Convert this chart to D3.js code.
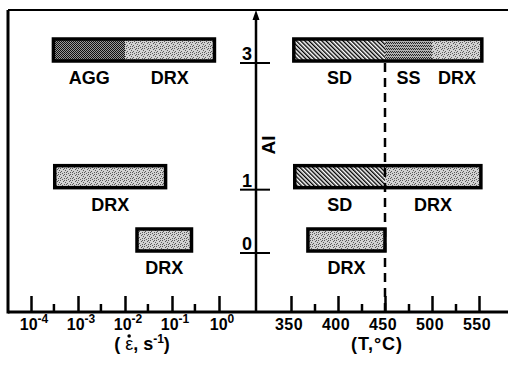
<!DOCTYPE html>
<html lang="en">
<head>
<meta charset="UTF-8">
<title>AI vs strain rate and temperature</title>
<script src="https://d3js.org/d3.v7.min.js"></script>
<style>
  body { margin: 0; background: #fff; }
  text { font-family: "Liberation Sans", Arial, sans-serif; font-weight: bold; fill: #000; }
</style>
</head>
<body>
<svg id="chart" width="508" height="371"></svg>
<script>
// AI levels and tick values
const aiTicks = [0, 1, 3];
const rateTicks = [1e-4, 1e-3, 1e-2, 1e-1, 1];
const rateMinor = [3e-4, 3e-3, 3e-2, 3e-1];
const tempTicks = [350, 400, 450, 500, 550];
const tempMinor = [375, 425, 475, 525];

// strain-rate panel segments
const rateAI = [3, 3, 1, 0];
const rateFrom = [3e-4, 1e-2, 3.2e-4, 0.018];
const rateTo = [1e-2, 0.8, 0.073, 0.26];
const rateMech = ["AGG", "DRX", "DRX", "DRX"];

// temperature panel segments
const tempAI = [3, 3, 3, 1, 1, 0];
const tempFrom = [353, 450, 500, 354, 450, 368];
const tempTo = [450, 500, 553, 450, 552, 450];
const tempMech = ["SD", "SS", "DRX", "SD", "DRX", "DRX"];
const tempBoundary = 450;

const svg = d3.select("#chart");
const yBottom = 312, yTop = 10, xLeft = 8, xRight = 508, midX = 256;

const xRate = d3.scaleLog().domain([1e-4, 1]).range([31, 219]);
const xTemp = d3.scaleLinear().domain([350, 550]).range([291, 479]);
const y = d3.scaleLinear().domain([0, 3]).range([253, 63]);

// fill patterns
const defs = svg.append("defs");
function pixPattern(id, w, h, bg, fg, pts) {
    const p = defs.append("pattern").attr("id", id)
        .attr("patternUnits", "userSpaceOnUse").attr("width", w).attr("height", h);
    p.append("rect").attr("width", w).attr("height", h).attr("fill", bg);
    pts.forEach(([px, py]) => p.append("rect").attr("x", px).attr("y", py)
        .attr("width", 1).attr("height", 1).attr("fill", fg));
}
pixPattern("DRX", 6, 6, "#d2d2d2", "#5a5a5a",
    [[0, 0], [3, 1], [1, 3], [4, 4], [5, 2], [2, 5], [4, 0], [0, 4]]);
pixPattern("AGG", 4, 4, "#9a9a9a", "#111",
    [[0, 0], [2, 0], [1, 1], [3, 1], [0, 2], [2, 2], [1, 3], [3, 3]]);
pixPattern("SS", 4, 3, "#b0b0b0", "#222",
    [[0, 0], [2, 0], [1, 1], [3, 1]]);
const sd = defs.append("pattern").attr("id", "SD")
    .attr("patternUnits", "userSpaceOnUse").attr("width", 3).attr("height", 3)
    .attr("patternTransform", "rotate(-45)");
sd.append("rect").attr("width", 3).attr("height", 3).attr("fill", "#fff");
sd.append("rect").attr("width", 1.4).attr("height", 3).attr("fill", "#000");

const rateSegs = rateAI.map((ai, i) => ({ai, from: rateFrom[i], to: rateTo[i], mech: rateMech[i], x: xRate}));
const tempSegs = tempAI.map((ai, i) => ({ai, from: tempFrom[i], to: tempTo[i], mech: tempMech[i], x: xTemp}));
const segs = rateSegs.concat(tempSegs);

const barH = 22;
svg.append("g").selectAll("rect")
    .data(segs).enter().append("rect")
    .attr("x", d => d.x(d.from))
    .attr("y", d => y(d.ai) - barH - 2)
    .attr("width", d => d.x(d.to) - d.x(d.from))
    .attr("height", barH)
    .attr("fill", d => `url(#${d.mech})`);

// outlines of whole bars
const outlines = [];
[rateSegs, tempSegs].forEach(list => {
    d3.group(list, d => d.ai).forEach((v, ai) => {
        outlines.push({ai, x: v[0].x, from: d3.min(v, d => d.from), to: d3.max(v, d => d.to)});
    });
});
svg.append("g").selectAll("rect")
    .data(outlines).enter().append("rect")
    .attr("x", d => d.x(d.from))
    .attr("y", d => y(d.ai) - barH - 2)
    .attr("width", d => d.x(d.to) - d.x(d.from))
    .attr("height", barH)
    .attr("fill", "none").attr("stroke", "#000").attr("stroke-width", 3.5);

svg.append("g").selectAll("text")
    .data(segs).enter().append("text")
    .attr("x", d => (d.x(d.from) + d.x(d.to)) / 2)
    .attr("y", d => y(d.ai) + 21)
    .attr("text-anchor", "middle")
    .style("font-size", "18px")
    .text(d => d.mech);

// dashed 450 C line
svg.append("line")
    .attr("x1", xTemp(tempBoundary)).attr("x2", xTemp(tempBoundary))
    .attr("y1", y(3)).attr("y2", yBottom)
    .attr("stroke", "#000").attr("stroke-width", 2.5)
    .attr("stroke-dasharray", "9,6");

// frame
svg.append("line").attr("x1", xLeft).attr("x2", xLeft).attr("y1", yTop).attr("y2", yBottom + 1.5)
    .attr("stroke", "#000").attr("stroke-width", 3);
svg.append("line").attr("x1", xLeft).attr("x2", xRight).attr("y1", yTop).attr("y2", yTop)
    .attr("stroke", "#000").attr("stroke-width", 2);
svg.append("line").attr("x1", xLeft).attr("x2", xRight).attr("y1", yBottom).attr("y2", yBottom)
    .attr("stroke", "#000").attr("stroke-width", 3);

// bottom axes
function ticksOn(scale, vals, len) {
    const g = svg.append("g").attr("transform", `translate(0,${yBottom})`)
        .call(d3.axisBottom(scale).tickValues(vals).tickSizeInner(-len).tickSizeOuter(0).tickFormat(""));
    g.select(".domain").remove();
    g.selectAll(".tick line").attr("stroke-width", 2.5);
    return g;
}
ticksOn(xRate, rateTicks, 16);
ticksOn(xRate, rateMinor, 8);
ticksOn(xTemp, tempTicks, 16);
ticksOn(xTemp, tempMinor, 8);

const rl = svg.append("g").selectAll("text")
    .data(rateTicks).enter().append("text")
    .attr("x", d => xRate(d) + 3).attr("y", 330)
    .attr("text-anchor", "middle")
    .style("font-size", "16px");
rl.append("tspan").text("10");
rl.append("tspan").attr("dy", -7).style("font-size", "12px")
    .text(d => String(Math.round(Math.log10(d))).replace("-0", "0"));

svg.append("g").selectAll("text")
    .data(tempTicks).enter().append("text")
    .attr("x", d => xTemp(d) - 2).attr("y", 330)
    .attr("text-anchor", "middle")
    .style("font-size", "16px")
    .style("letter-spacing", "0.5px")
    .text(d => d);

// axis titles
const t1 = svg.append("text").attr("x", 142).attr("y", 350)
    .attr("text-anchor", "middle").style("font-size", "18px");
t1.append("tspan").text("( ");
t1.append("tspan").style("font-weight", "normal").text("\u03B5");
t1.append("tspan").text(", s");
t1.append("tspan").attr("dy", -7).style("font-size", "12px").text("-1");
t1.append("tspan").attr("dy", 7).text(")");
// dot over epsilon
const eps = t1.node().getExtentOfChar(2);
svg.append("circle")
    .attr("cx", eps.x + eps.width / 2).attr("cy", 350 - 14)
    .attr("r", 1.8).attr("fill", "#000");

svg.append("text").attr("x", 377).attr("y", 350)
    .attr("text-anchor", "middle").style("font-size", "18px")
    .style("letter-spacing", "1px")
    .text("(T,\u00B0C)");

// central AI axis
svg.append("line").attr("x1", midX).attr("x2", midX).attr("y1", yBottom).attr("y2", yTop + 6)
    .attr("stroke", "#000").attr("stroke-width", 2.5);
svg.append("path")
    .attr("d", `M${midX},${yTop} L${midX - 3.5},${yTop + 10} L${midX + 3.5},${yTop + 10} Z`)
    .attr("fill", "#000");

svg.append("g").selectAll("line")
    .data(aiTicks).enter().append("line")
    .attr("x1", 240).attr("x2", 270)
    .attr("y1", d => y(d)).attr("y2", d => y(d))
    .attr("stroke", "#000").attr("stroke-width", 2);
svg.append("g").selectAll("text")
    .data(aiTicks).enter().append("text")
    .attr("x", 252).attr("y", d => y(d) - 3)
    .attr("text-anchor", "end")
    .style("font-size", "18px")
    .text(d => d);

svg.append("text")
    .attr("transform", "translate(275,145) rotate(-90)")
    .attr("text-anchor", "middle")
    .style("font-size", "19px")
    .text("AI");
</script>
</body>
</html>
